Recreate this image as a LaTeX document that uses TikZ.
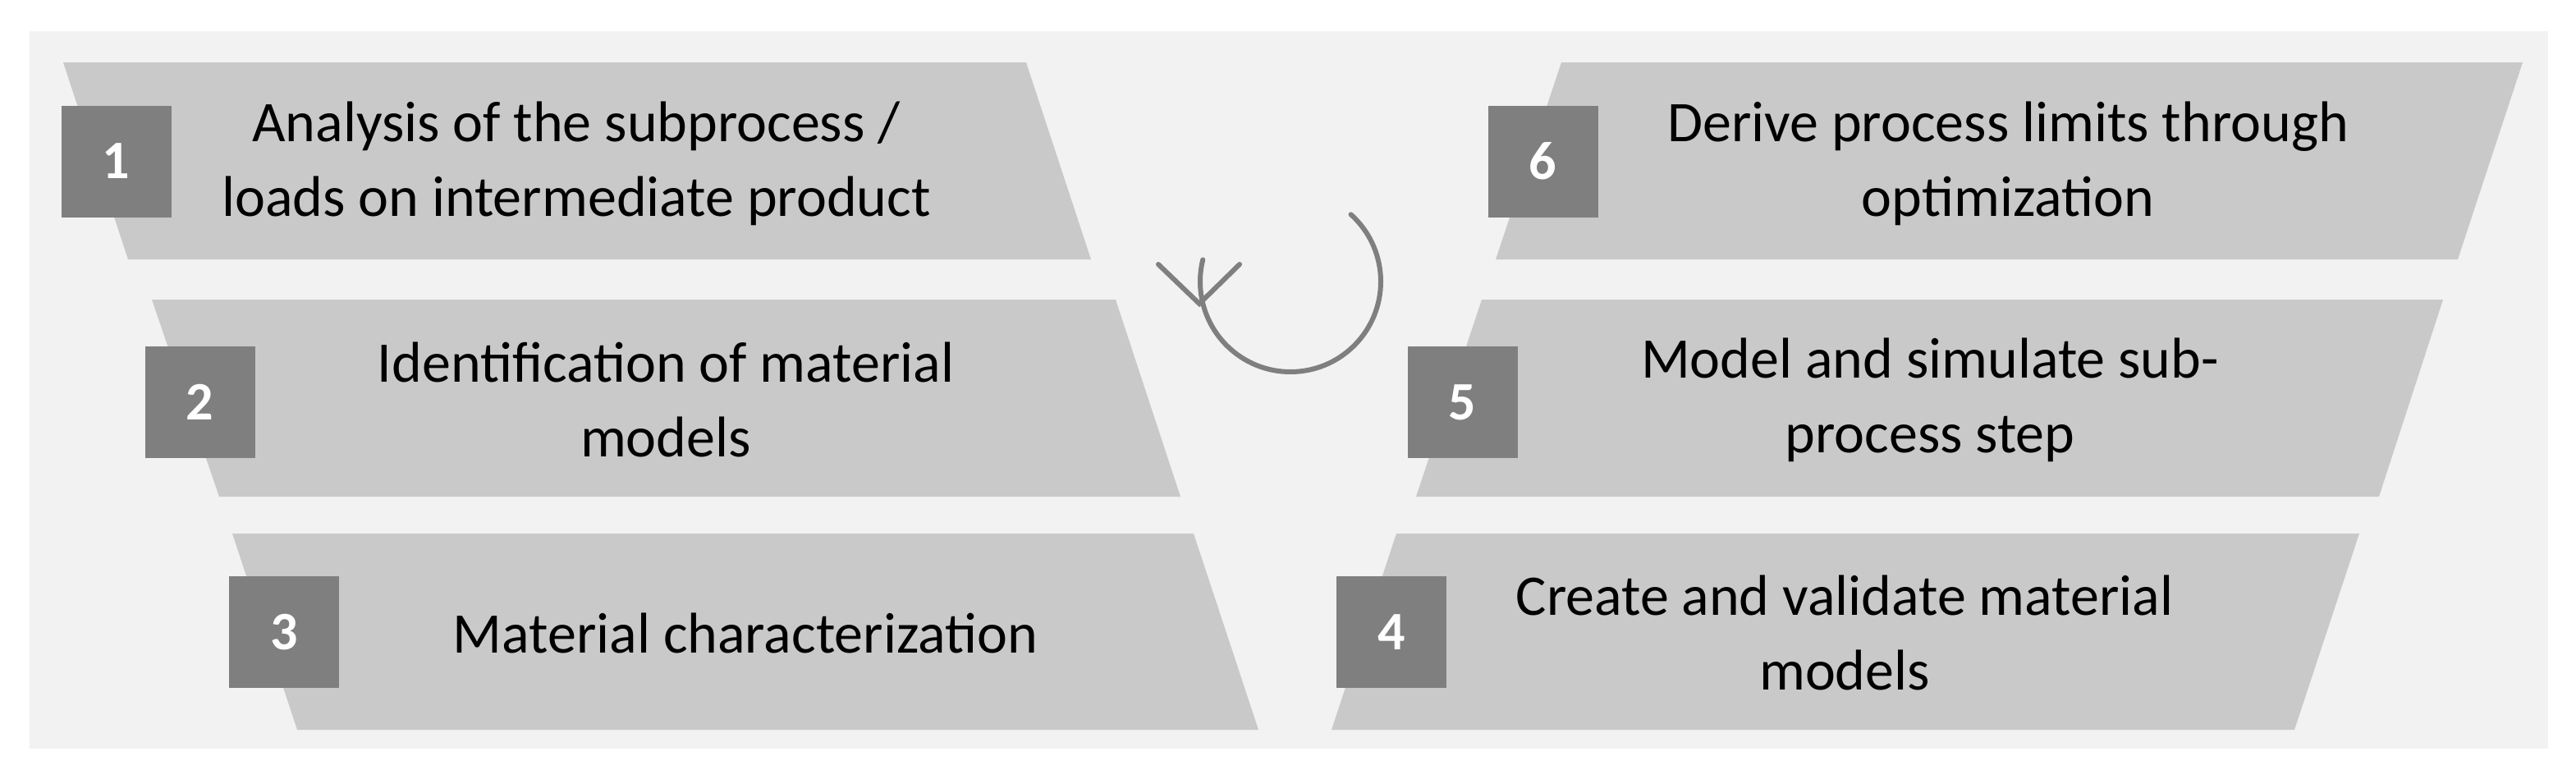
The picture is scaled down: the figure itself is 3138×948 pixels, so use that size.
\documentclass[tikz,border=0pt]{standalone}
\usepackage{fontspec}
\setmainfont{Carlito}
\usetikzlibrary{arrows.meta}
\definecolor{bg}{HTML}{F2F2F2}
\definecolor{band}{HTML}{C9C9C9}
\definecolor{sq}{HTML}{7F7F7F}
\begin{document}
\begin{tikzpicture}[x=0.5pt,y=-0.5pt,
  band/.style={fill=band},
  num/.style={fill=sq,text=white,font=\fontsize{33}{40}\selectfont\bfseries,minimum width=67pt,minimum height=68pt,inner sep=0pt},
  lab/.style={align=center,font=\fontsize{35}{45.5}\selectfont,inner sep=0pt}]
\useasboundingbox (0,0) rectangle (3138,948);
\fill[white] (0,0) rectangle (3138,948);
\fill[bg] (36,38) rectangle (3104,912);
% left bands
\path[band] (77,76) -- (1250,76) -- (1329,316) -- (156,316) -- cycle;
\path[band] (185,365) -- (1359,365) -- (1438,605) -- (267,605) -- cycle;
\path[band] (283,650) -- (1454,650) -- (1533,889) -- (362,889) -- cycle;
% right bands
\path[band] (1902,76) -- (3073,76) -- (2994,316) -- (1822,316) -- cycle;
\path[band] (1805,365) -- (2976,365) -- (2898,605) -- (1725,605) -- cycle;
\path[band] (1701,650) -- (2874,650) -- (2795,889) -- (1622,889) -- cycle;
% numbers
\node[num] (n1) at (141.5,196.5) {1};
\node[num] (n2) at (243.5,490) {2};
\node[num] (n3) at (346,770) {3};
\node[num] (n6) at (1879.5,196.5) {6};
\node[num] (n5) at (1781.5,490) {5};
\node[num] (n4) at (1695,770) {4};
% labels
\node[lab] (t1) at (702,199) {Analysis of the subprocess /\\loads on intermediate product};
\node[lab] (t2) at (811,487) {Identification of material\\models};
\node[lab] (t3) at (908,771) {Material characterization};
\node[lab] (t6) at (2446,199) {Derive process limits through\\optimization};
\node[lab] (t5) at (2351,487) {Model and simulate sub-\\process step};
\node[lab] (t4) at (2247,771) {Create and validate material\\models};
% cycle arrow
\coordinate (c) at (1572,343);
\draw[sq,line width=3pt,line cap=round] ([shift={(-48:110)}]c) arc[start angle=-48,end angle=194,radius=110];
\coordinate (tip) at (1461,370);
\draw[sq,line width=3pt,line cap=round,line join=miter] (1411,322) -- (tip) -- (1510,322);
\end{tikzpicture}
\end{document}
